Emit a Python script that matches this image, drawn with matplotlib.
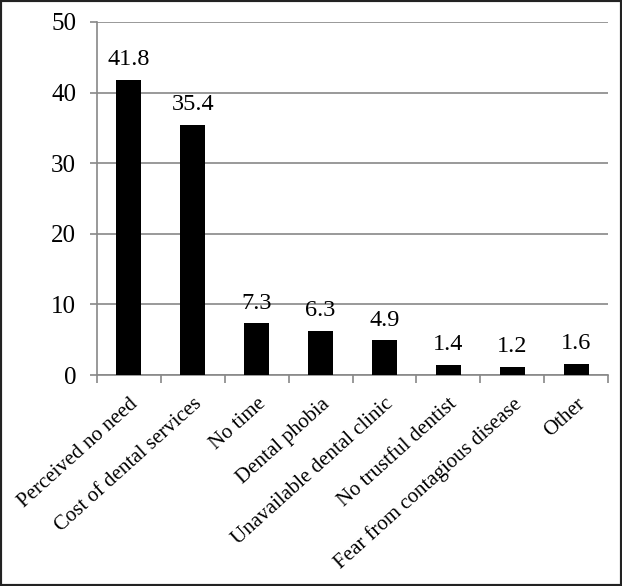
import matplotlib
matplotlib.use("Agg")
import matplotlib.pyplot as plt
from matplotlib.patches import Rectangle

categories = ["Perceived no need", "Cost of dental services", "No time", "Dental phobia",
              "Unavailable dental clinic", "No trustful dentist",
              "Fear from contagious disease", "Other"]
values = [41.8, 35.4, 7.3, 6.3, 4.9, 1.4, 1.2, 1.6]
yticks = [0, 10, 20, 30, 40, 50]

plt.rcParams['font.family'] = ['Liberation Serif', 'DejaVu Serif']

fig = plt.figure(figsize=(6.22, 5.86), dpi=100)
ax = fig.add_axes([97/622, 1 - 375/586, (608-97)/622, (375-22)/586])

x = list(range(len(categories)))
ax.bar(x, values, width=0.39, color='black', zorder=3)
for xi, v in zip(x, values):
    ax.text(xi, v + 1.4, f"{v}", ha='center', va='bottom', fontsize=17.5)

ax.set_xlim(-0.5, len(categories) - 0.5)
ax.set_ylim(0, 50)
ax.set_yticks(yticks)
ax.set_yticklabels([str(t) for t in yticks], fontsize=18)
ax.yaxis.grid(True, color='#888888', linewidth=1.2, zorder=0)
ax.tick_params(axis='y', length=5, color='#888888', width=1.2, pad=10)

ax.set_xticks(x)
ax.set_xticklabels(categories, rotation=42, ha='right', rotation_mode='anchor', fontsize=15)
ax.set_xticks([i + 0.5 for i in range(-1, len(categories))], minor=True)
ax.tick_params(axis='x', which='major', length=0, pad=14)
ax.tick_params(axis='x', which='minor', length=6, color='#888888', width=1.2)

for s in ['top', 'right']:
    ax.spines[s].set_visible(False)
for s in ['left', 'bottom']:
    ax.spines[s].set_color('#888888')
    ax.spines[s].set_linewidth(1.2)

fig.patches.append(Rectangle((0, 0), 1, 1, transform=fig.transFigure, fill=False,
                             edgecolor='#222222', linewidth=3))
fig.savefig("out.png", dpi=100)
